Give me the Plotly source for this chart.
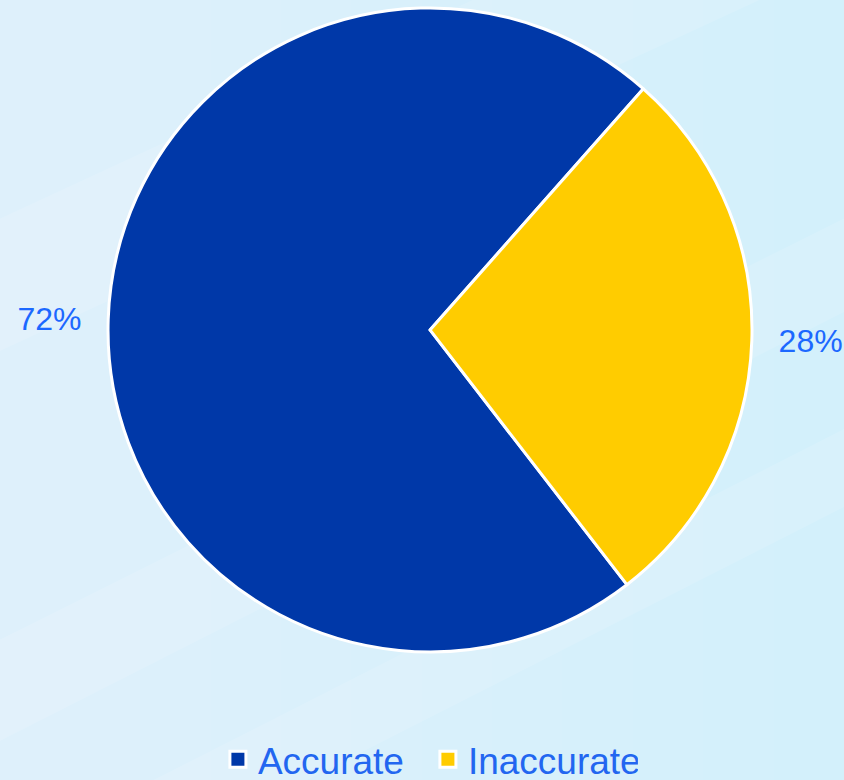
import plotly.graph_objs as go

labels = ['Accurate', 'Inaccurate']
values = [72, 28]
colors = ['#0038A8', '#FFCC00']

FONT = 'Liberation Sans, Arial, sans-serif'

fig = go.Figure()

# pie itself (legend drawn with dummy markers below so the squares can be bigger)
fig.add_trace(go.Pie(
    labels=labels,
    values=values,
    sort=False,
    direction='clockwise',
    rotation=142.3,
    marker=dict(colors=colors, line=dict(color='white', width=3)),
    textinfo='percent',
    texttemplate=['%{percent:.0%}\u00a0\u00a0', '\u00a0\u00a0%{percent:.0%}'],
    textposition='outside',
    outsidetextfont=dict(family=FONT, size=32, color='#1C68FF'),
    domain=dict(x=[0.128, 0.891], y=[0.164, 0.99]),
    hoverinfo='label+percent',
    showlegend=False,
))

for lab, col in zip(labels, colors):
    fig.add_trace(go.Scatter(
        x=[None], y=[None], mode='markers', name=lab,
        marker=dict(symbol='square', size=18, color=col, line=dict(color='white', width=3)),
    ))

# pale blue background: soft left-to-right gradient + faint diagonal streaks
shapes = []
n = 12
for i in range(n):
    shapes.append(dict(type='rect', xref='paper', yref='paper',
                       x0=0, x1=1 - i / n, y0=0, y1=1,
                       fillcolor='rgba(255,255,255,0.04)', line=dict(width=0), layer='below'))
streaks = [
    'M 0 0.55 L 0 0.72 L 1 1.22 L 1 1.05 Z',
    'M 0 0.05 L 0 0.18 L 1 0.72 L 1 0.6 Z',
    'M 0 -0.2 L 0 -0.1 L 1 0.45 L 1 0.35 Z',
]
for p in streaks:
    shapes.append(dict(type='path', xref='paper', yref='paper', path=p,
                       fillcolor='rgba(255,255,255,0.12)', line=dict(width=0), layer='below'))

fig.update_layout(
    width=844,
    height=780,
    margin=dict(l=0, r=0, t=0, b=0, autoexpand=False),
    paper_bgcolor='#D2F0FB',
    plot_bgcolor='rgba(0,0,0,0)',
    shapes=shapes,
    xaxis=dict(visible=False, domain=[0, 1]),
    yaxis=dict(visible=False, domain=[0, 1]),
    showlegend=True,
    legend=dict(
        orientation='h',
        x=0.507, xanchor='center',
        y=0.026, yanchor='middle',
        font=dict(family=FONT, size=37, color='#2266F0'),
        itemsizing='trace',
        entrywidth=165,
        bgcolor='rgba(0,0,0,0)',
    ),
)

fig.write_html("out.html", config={'displayModeBar': False},
               post_script="document.body.style.margin='0';")
